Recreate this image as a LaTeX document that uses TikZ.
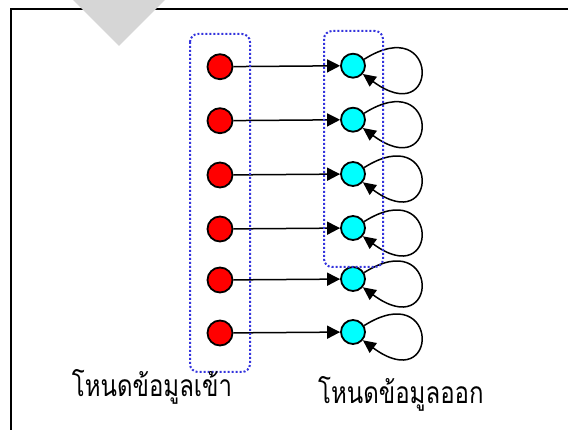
\documentclass[tikz,border=0pt]{standalone}
\usepackage{fontspec}
\newfontfamily\thaifont[Script=Thai,FakeStretch=0.8]{Loma}
\usetikzlibrary{arrows.meta}
\definecolor{grpblue}{RGB}{51,51,221}
\definecolor{markgray}{RGB}{214,214,214}
\definecolor{incolor}{RGB}{255,0,0}
\definecolor{outcolor}{RGB}{0,255,255}
\tikzset{
  innode/.style={circle,draw=black,line width=1.8pt,fill=incolor,minimum size=25pt,inner sep=0pt},
  outnode/.style={circle,draw=black,line width=1.8pt,fill=outcolor,minimum size=24pt,inner sep=0pt},
  link/.style={line width=1.5pt,-{Triangle[length=13pt,width=13pt]}},
  selfloop/.style={line width=1.5pt,-{Triangle[length=13pt,width=12pt]}},
  group/.style={draw=grpblue,line width=2pt,dash pattern=on 2pt off 2pt,rounded corners=8pt},
  caption/.style={font=\thaifont\fontsize{30}{30}\selectfont,anchor=base west,inner sep=0pt}
}
\begin{document}
\begin{tikzpicture}[x=1pt,y=1pt]
\useasboundingbox (0,0) rectangle (568,-430);
\fill[white] (0,0) rectangle (568,-430);
% page frame
\draw[line width=2pt] (11,-440) -- (11,-9.3) -- (580,-9.3);
% grey marker at the top
\fill[markgray] (65,8) -- (173,8) -- (119,-46) -- cycle;
% input and output nodes
\foreach \i/\y in {1/66.7,2/120.7,3/175,4/229,5/280,6/333}{
  \node[innode] (in\i) at (220,-\y) {};
  \node[outnode] (out\i) at (353,-\y+1) {};
}
\foreach \i in {1,...,6}{
  \draw[link] (in\i) -- (out\i);
  \draw[selfloop] (out\i.30) .. controls +(76,48) and +(77,-57) .. (out\i.-40);
}
% dotted groups
\draw[group] (190,-34) rectangle (250,-372);
\draw[group] (324,-31) rectangle (383,-267);
% captions
\node[caption] (lin) at (71.7,-397) {โหนดข้อมูลเข้า};
\node[caption] (lout) at (318,-403) {โหนดข้อมูลออก};
\end{tikzpicture}
\end{document}
